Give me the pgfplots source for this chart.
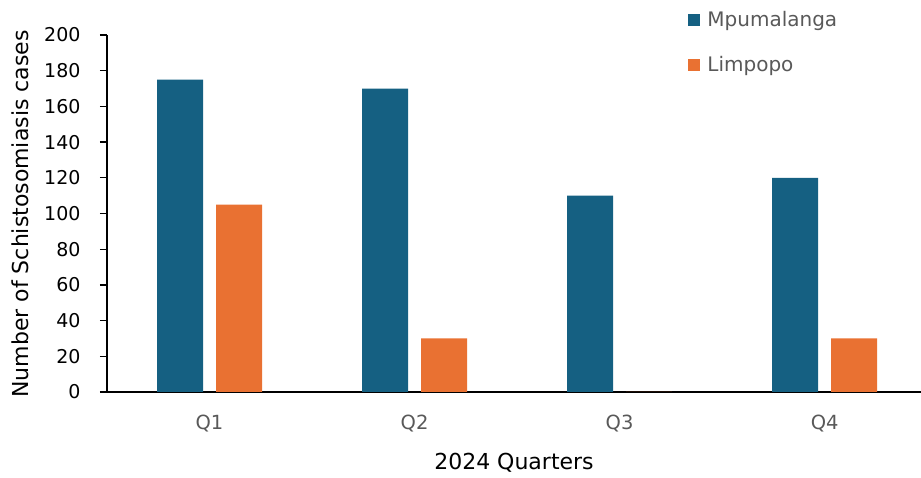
\documentclass[border=0pt]{standalone}
\usepackage{fontspec}
\setmainfont{DejaVu Sans}
\usepackage{pgfplots}
\pgfplotsset{compat=1.18}
\definecolor{mblue}{HTML}{156082}
\definecolor{morange}{HTML}{E97132}
\definecolor{tgray}{HTML}{595959}
\begin{document}
\begin{tikzpicture}[x=1pt,y=1pt]
\path[use as bounding box] (0,0) rectangle (921,478);
\begin{axis}[
  at={(107pt,86pt)}, anchor=south west,
  scale only axis, width=814pt, height=357pt,
  xmin=-0.5, xmax=3.47, ymin=0, ymax=200,
  axis x line*=bottom, axis y line*=left,
  axis line style={black, line width=1.3pt},
  tick align=outside,
  ytick={0,20,40,60,80,100,120,140,160,180,200},
  yticklabels={0,20,40,60,80,100,120,140,160,180,200},
  major tick length=7pt,
  ytick style={black, line width=1.3pt},
  xtick={0,1,2,3}, xticklabels={Q1,Q2,Q3,Q4},
  major x tick style={draw=none},
  extra x ticks={-0.5,0.5,1.5,2.5},
  extra x tick labels={},
  extra x tick style={major tick length=6pt, tick style={black, line width=1.3pt}},
  yticklabel style={font=\fontsize{19}{22}\selectfont, text=black, xshift=-16pt},
  xticklabel style={font=\fontsize{19.5}{22}\selectfont, text=tgray, yshift=-12pt},
  xlabel={2024 Quarters},
  xlabel style={font=\fontsize{22}{26}\selectfont, at={(axis description cs:0.5,-0.199)}, anchor=center},
  ylabel={Number of Schistosomiasis cases},
  ylabel style={font=\fontsize{22}{24}\selectfont, at={(axis description cs:-0.106,0.4986)}, anchor=center, rotate=0},
  legend style={at={(axis description cs:0.714,1.072)}, anchor=north west, draw=none, fill=none,
    font=\fontsize{20}{23}\selectfont, text=tgray, row sep=24.5pt, inner sep=0pt,
    nodes={inner xsep=7pt}},
  legend cell align=left,
  legend image code/.code={\fill[#1] (0pt,-6pt) rectangle (12pt,6pt);},
]
\addplot[ybar, bar width=46pt, bar shift=-29.5pt, fill=mblue, draw=none]
  coordinates {(0,175) (1,170) (2,110) (3,120)};
\addlegendentry{Mpumalanga}
\addplot[ybar, bar width=46pt, bar shift=29.5pt, fill=morange, draw=none]
  coordinates {(0,105) (1,30) (2,0) (3,30)};
\addlegendentry{Limpopo}
\end{axis}
\end{tikzpicture}
\end{document}
